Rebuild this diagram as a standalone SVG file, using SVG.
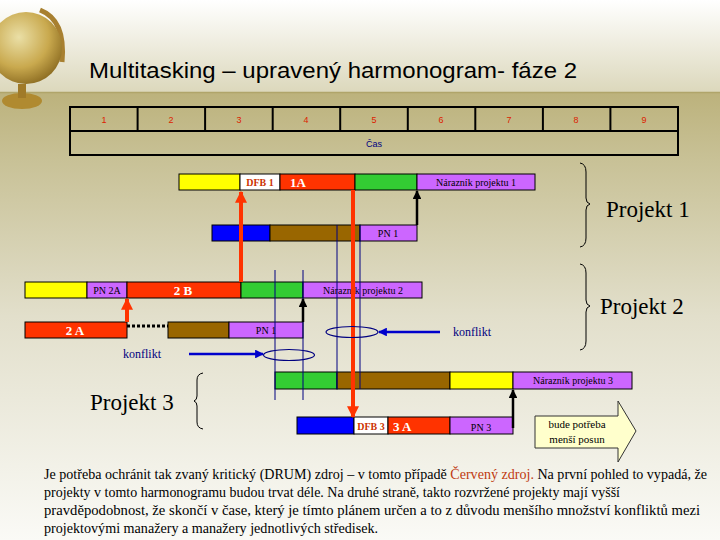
<svg xmlns="http://www.w3.org/2000/svg" width="720" height="540" viewBox="0 0 720 540">
<defs>
<linearGradient id="bgTop" x1="0" y1="0" x2="0" y2="1">
<stop offset="0" stop-color="#ffffff"/>
<stop offset="1" stop-color="#dcd8bc"/>
</linearGradient>
<linearGradient id="bgMain" x1="0" y1="0" x2="0" y2="1">
<stop offset="0" stop-color="#bcb27c"/>
<stop offset="0.15" stop-color="#c8c196"/>
<stop offset="0.5" stop-color="#e2dfcb"/>
<stop offset="1" stop-color="#fafaf6"/>
</linearGradient>
<radialGradient id="globe" cx="0.4" cy="0.35" r="0.7">
<stop offset="0" stop-color="#eadfa6"/>
<stop offset="0.6" stop-color="#c9a94e"/>
<stop offset="1" stop-color="#8a6a20"/>
</radialGradient>
<marker id="ahRed" viewBox="0 0 10 10" refX="9" refY="5" markerWidth="3" markerHeight="3" orient="auto-start-reverse" markerUnits="strokeWidth">
<path d="M0,0 L10,5 L0,10 z" fill="#ff3300"/>
</marker>
<marker id="ahBlack" viewBox="0 0 10 10" refX="9" refY="5" markerWidth="3.5" markerHeight="3.5" orient="auto" markerUnits="strokeWidth">
<path d="M0,0 L10,5 L0,10 z" fill="#000000"/>
</marker>
<marker id="ahBlue" viewBox="0 0 10 10" refX="9" refY="5" markerWidth="3.5" markerHeight="3.5" orient="auto" markerUnits="strokeWidth">
<path d="M0,0 L10,5 L0,10 z" fill="#0000cc"/>
</marker>
<style>
.bar{stroke:#000;stroke-width:1}
.y{fill:#ffff00}.r{fill:#ff3300}.g{fill:#33cc33}.p{fill:#cc66ff}.b{fill:#0000ff}.br{fill:#996600}.w{fill:#ffffff}
.t{font-family:"Liberation Serif","Times New Roman",serif;font-size:10px;fill:#000}
.dfb{font-family:"Liberation Serif",serif;font-size:10px;font-weight:bold;fill:#cc3300}
.lab{font-family:"Liberation Serif",serif;font-size:13px;font-weight:bold;fill:#ffffff}
.num{font-family:"Liberation Sans",Arial,sans-serif;font-size:9px;fill:#dd2200;text-anchor:middle}
.proj{font-family:"Liberation Serif","Times New Roman",serif;font-size:23px;fill:#000}
.kon{font-family:"Liberation Serif",serif;font-size:12px;fill:#000080}
.body{font-family:"Liberation Serif","Times New Roman",serif;font-size:14px;fill:#000}
.vl{stroke:#000080;stroke-width:1;fill:none}
.brace{stroke:#000;stroke-width:1;fill:none}
</style>
</defs>
<rect x="0" y="0" width="720" height="92" fill="url(#bgTop)"/>
<rect x="0" y="92" width="720" height="448" fill="url(#bgMain)"/>
<line x1="0" y1="92.5" x2="720" y2="92.5" stroke="#b0a56a" stroke-width="1.5"/>
<g id="globe-deco">
<ellipse cx="22" cy="101" rx="20" ry="8" fill="#b08a30"/>
<rect x="18" y="84" width="8" height="14" fill="#a07a28"/>
<path d="M40,10 Q66,20 62,62" stroke="#a88030" stroke-width="5" fill="none"/>
<circle cx="26" cy="48" r="36" fill="url(#globe)"/>
</g>
<text x="89" y="78" font-family="Liberation Sans,Arial,sans-serif" font-size="21.5" textLength="488" lengthAdjust="spacingAndGlyphs" fill="#000">Multitasking – upravený harmonogram- fáze 2</text>
<g id="timeline">
<rect x="70" y="107" width="608" height="48" fill="none" stroke="#000" stroke-width="2"/>
<line x1="70" y1="131" x2="678" y2="131" stroke="#000" stroke-width="2"/>
<g stroke="#000" stroke-width="2">
<line x1="137.6" y1="107" x2="137.6" y2="131"/><line x1="205.1" y1="107" x2="205.1" y2="131"/>
<line x1="272.7" y1="107" x2="272.7" y2="131"/><line x1="340.2" y1="107" x2="340.2" y2="131"/>
<line x1="407.8" y1="107" x2="407.8" y2="131"/><line x1="475.3" y1="107" x2="475.3" y2="131"/>
<line x1="542.9" y1="107" x2="542.9" y2="131"/><line x1="610.4" y1="107" x2="610.4" y2="131"/>
</g>
<text class="num" x="104" y="123">1</text><text class="num" x="171" y="123">2</text>
<text class="num" x="239" y="123">3</text><text class="num" x="306" y="123">4</text>
<text class="num" x="374" y="123">5</text><text class="num" x="441" y="123">6</text>
<text class="num" x="509" y="123">7</text><text class="num" x="576" y="123">8</text>
<text class="num" x="644" y="123">9</text>
<text x="374" y="147" font-family="Liberation Sans,Arial,sans-serif" font-size="9" fill="#000080" text-anchor="middle">Čas</text>
</g>
<g id="project1">
<rect class="bar y" x="179" y="174" width="61" height="16"/>
<rect class="bar w" x="240" y="174" width="40" height="16"/>
<rect class="bar r" x="280" y="174" width="75" height="16"/>
<rect class="bar g" x="355" y="174" width="62" height="16"/>
<rect class="bar p" x="417" y="174" width="118" height="16"/>
<text class="dfb" x="260" y="186" text-anchor="middle">DFB 1</text>
<text class="lab" x="290" y="187">1A</text>
<text class="t" x="476" y="186" text-anchor="middle">Nárazník projektu 1</text>
<rect class="bar b" x="212" y="225" width="58" height="16"/>
<rect class="bar br" x="270" y="225" width="90" height="16"/>
<rect class="bar p" x="360" y="225" width="57" height="16"/>
<text class="t" x="388" y="237" text-anchor="middle">PN 1</text>
</g>
<g id="project2">
<rect class="bar y" x="25" y="282" width="62" height="16"/>
<rect class="bar p" x="87" y="282" width="40" height="16"/>
<rect class="bar r" x="127" y="282" width="114" height="16"/>
<rect class="bar g" x="241" y="282" width="62" height="16"/>
<rect class="bar p" x="303" y="282" width="119" height="16"/>
<text class="t" x="107" y="294" text-anchor="middle">PN 2A</text>
<text class="lab" x="183" y="295" text-anchor="middle">2 B</text>
<text class="t" x="363" y="294" text-anchor="middle">Nárazník projektu 2</text>
<rect class="bar r" x="25" y="322" width="102" height="16"/>
<rect class="bar br" x="168" y="322" width="61" height="16"/>
<rect class="bar p" x="229" y="322" width="74" height="16"/>
<text class="lab" x="75" y="335" text-anchor="middle">2 A</text>
<text class="t" x="266" y="334" text-anchor="middle">PN 1</text>
</g>
<g id="project3">
<rect class="bar g" x="275" y="372" width="62" height="17"/>
<rect class="bar br" x="337" y="372" width="113" height="17"/>
<rect class="bar y" x="450" y="372" width="63" height="17"/>
<rect class="bar p" x="513" y="372" width="119" height="17"/>
<text class="t" x="573" y="384" text-anchor="middle" font-size="9">Nárazník projektu 3</text>
<rect class="bar b" x="297" y="417" width="57" height="17"/>
<rect class="bar w" x="354" y="417" width="34" height="17"/>
<rect class="bar r" x="388" y="417" width="62" height="17"/>
<rect class="bar p" x="450" y="417" width="63" height="17"/>
<text class="dfb" x="371" y="430" text-anchor="middle">DFB 3</text>
<text class="lab" x="393" y="431">3 A</text>
<text class="t" x="481" y="431" text-anchor="middle">PN 3</text>
</g>
<g id="connectors">
<line class="vl" x1="275" y1="270" x2="275" y2="400"/>
<line class="vl" x1="303" y1="270" x2="303" y2="400"/>
<line class="vl" x1="337" y1="225" x2="337" y2="389"/>
<line class="vl" x1="360" y1="225" x2="360" y2="389"/>
<line x1="127" y1="326" x2="168" y2="326" stroke="#000" stroke-width="3" stroke-dasharray="3,2"/>
<line x1="241" y1="282" x2="241" y2="192" stroke="#ff3300" stroke-width="4" marker-end="url(#ahRed)"/>
<line x1="127" y1="322" x2="127" y2="299" stroke="#ff3300" stroke-width="4" marker-end="url(#ahRed)"/>
<line x1="353" y1="190" x2="353" y2="417" stroke="#ff3300" stroke-width="4" marker-end="url(#ahRed)"/>
<line x1="417" y1="225" x2="417" y2="191" stroke="#000" stroke-width="2.5" marker-end="url(#ahBlack)"/>
<line x1="303" y1="322" x2="303" y2="299" stroke="#000" stroke-width="2.5" marker-end="url(#ahBlack)"/>
<line x1="513" y1="428" x2="513" y2="390" stroke="#000" stroke-width="2.5" marker-end="url(#ahBlack)"/>
<ellipse cx="352" cy="332" rx="26" ry="5.5" fill="none" stroke="#000080" stroke-width="1.2"/>
<ellipse cx="289" cy="355" rx="25.5" ry="5.5" fill="none" stroke="#000080" stroke-width="1.2"/>
<line x1="440" y1="332" x2="379" y2="332" stroke="#0000cc" stroke-width="2.5" marker-end="url(#ahBlue)"/>
<line x1="189" y1="354" x2="263" y2="354" stroke="#0000cc" stroke-width="2.5" marker-end="url(#ahBlue)"/>
</g>
<text class="kon" x="453" y="336">konflikt</text>
<text class="kon" x="123" y="358">konflikt</text>
<g id="brace1"><path class="brace" d="M580,163 Q586,164 586,172 L586,198 Q586,203 590,204 Q586,205 586,210 L586,238 Q586,246 580,247"/>
<text class="proj" x="606" y="217">Projekt 1</text></g>
<g id="brace2"><path class="brace" d="M580,264 Q586,265 586,273 L586,300 Q586,305 590,306 Q586,307 586,312 L586,341 Q586,349 580,350"/>
<text class="proj" x="600" y="314">Projekt 2</text></g>
<g id="brace3"><path class="brace" d="M203,373 Q197,374 197,380 L197,396 Q197,400 194,401 Q197,402 197,406 L197,422 Q197,428 203,429"/>
<text class="proj" x="90" y="410">Projekt 3</text></g>
<g id="note">
<path d="M535,416 L618,416 L618,401 L636,431 L618,462 L618,448 L535,448 Z" fill="#ffffcc" stroke="#333" stroke-width="1"/>
<text x="577" y="428" font-family="Liberation Serif,serif" font-size="11" text-anchor="middle">bude potřeba</text>
<text x="577" y="443" font-family="Liberation Serif,serif" font-size="11" text-anchor="middle">menší posun</text>
</g>
<g id="bodytext">
<text class="body" x="44" y="479" textLength="663" lengthAdjust="spacingAndGlyphs">Je potřeba ochránit tak zvaný  kritický (DRUM) zdroj – v tomto případě <tspan fill="#c03a10">Červený zdroj.</tspan> Na první pohled to vypadá, že</text>
<text class="body" x="44" y="497" textLength="576" lengthAdjust="spacingAndGlyphs">projekty v tomto harmonogramu budou trvat déle. Na druhé straně, takto rozvržené projekty mají  vyšší</text>
<text class="body" x="44" y="515" textLength="656" lengthAdjust="spacingAndGlyphs">pravděpodobnost, že skončí v čase, který je tímto plánem určen  a to z důvodu menšího množství konfliktů mezi</text>
<text class="body" x="44" y="533" textLength="334" lengthAdjust="spacingAndGlyphs">projektovými  manažery a manažery jednotlivých středisek.</text>
</g>
</svg>
